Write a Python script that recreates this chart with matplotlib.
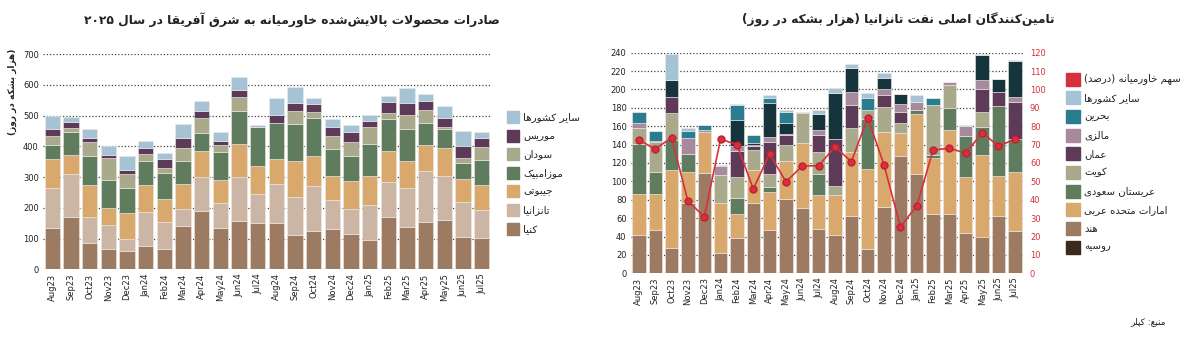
import re

import matplotlib

matplotlib.use("Agg")
import matplotlib.pyplot as plt
from matplotlib.patches import Rectangle
import numpy as np

# ---- data ----
months = ["Aug23", "Sep23", "Oct23", "Nov23", "Dec23", "Jan24", "Feb24", "Mar24",
          "Apr24", "May24", "Jun24", "Jul24", "Aug24", "Sep24", "Oct24", "Nov24",
          "Dec24", "Jan25", "Feb25", "Mar25", "Apr25", "May25", "Jun25", "Jul25"]

# left chart: exports to East Africa (kb/d)
kenya = [133, 171, 85, 67, 60, 76, 65, 141, 189, 134, 157, 150, 150, 112, 126, 131, 116, 96, 171, 139, 154, 161, 105, 102]
tanzania = [132, 139, 84, 77, 39, 111, 88, 54, 110, 81, 142, 94, 127, 123, 146, 95, 79, 114, 112, 126, 166, 143, 113, 91]
djibouti = [94, 62, 106, 54, 83, 87, 77, 82, 86, 75, 108, 92, 82, 117, 97, 78, 93, 93, 103, 86, 84, 91, 77, 80]
mozambique = [45, 75, 92, 93, 83, 79, 84, 76, 59, 91, 108, 126, 116, 120, 124, 88, 80, 104, 104, 104, 73, 60, 51, 83]
sudan = [29, 13, 47, 72, 46, 23, 15, 40, 47, 22, 46, 0, 2, 43, 19, 42, 46, 56, 17, 47, 41, 8, 16, 43]
mauritius = [22, 20, 14, 9, 12, 19, 29, 35, 24, 14, 22, 1, 24, 27, 26, 28, 33, 19, 37, 40, 30, 30, 39, 29]
others_l = [45, 14, 28, 29, 44, 23, 20, 45, 33, 28, 41, 5, 55, 52, 19, 28, 22, 20, 19, 46, 21, 37, 50, 17]

# right chart: Tanzania suppliers (kb/d) + Middle East share (%)
india = [42, 47, 27, 77, 109, 22, 38, 76, 47, 81, 71, 48, 42, 62, 26, 72, 128, 108, 64, 64, 44, 39, 62, 46]
uae = [44, 39, 85, 33, 45, 54, 27, 36, 41, 41, 71, 37, 43, 70, 87, 82, 25, 65, 61, 92, 61, 90, 44, 64]
saudi = [55, 24, 33, 20, 0, 0, 17, 0, 6, 0, 0, 23, 0, 0, 55, 0, 0, 5, 4, 24, 44, 30, 76, 36]
kuwait = [17, 33, 29, 0, 0, 31, 23, 22, 14, 18, 32, 24, 10, 26, 10, 27, 11, 0, 54, 25, 0, 16, 0, 0]
oman = [0, 0, 18, 0, 0, 0, 28, 4, 35, 11, 0, 18, 51, 25, 0, 13, 12, 0, 0, 0, 0, 25, 15, 40]
malaysia = [5, 1, 0, 17, 2, 10, 6, 2, 5, 1, 2, 6, 0, 14, 0, 7, 8, 8, 0, 3, 11, 10, 0, 6]
russia = [0, 0, 18, 0, 0, 0, 28, 2, 37, 11, 0, 17, 50, 26, 0, 12, 11, 0, 0, 0, 0, 27, 14, 39]
bahrain = [13, 11, 0, 8, 5, 0, 16, 9, 6, 13, 0, 0, 0, 0, 13, 0, 0, 0, 8, 0, 0, 0, 0, 0]
others_r = [0, 0, 29, 3, 0, 1, 1, 0, 3, 2, 0, 5, 6, 5, 5, 5, 0, 8, 0, 0, 1, 2, 0, 1]
me_share = [72.5, 67.6, 73.8, 39.3, 30.8, 73, 70, 45.9, 64.9, 49.8, 58.4, 58.5,
            68.9, 60.7, 84.6, 58.9, 25.4, 36.6, 67.1, 68, 65.3, 76.5, 69.2, 72.9]

# ---- minimal persian shaping (matplotlib has no bidi/joining) ----
FORMS = {
    "ا": (0xFE8D, 0xFE8E), "آ": (0xFE81, 0xFE82),
    "ب": (0xFE8F, 0xFE90, 0xFE91, 0xFE92), "پ": (0xFB56, 0xFB57, 0xFB58, 0xFB59),
    "ت": (0xFE95, 0xFE96, 0xFE97, 0xFE98), "ث": (0xFE99, 0xFE9A, 0xFE9B, 0xFE9C),
    "ج": (0xFE9D, 0xFE9E, 0xFE9F, 0xFEA0), "چ": (0xFB7A, 0xFB7B, 0xFB7C, 0xFB7D),
    "ح": (0xFEA1, 0xFEA2, 0xFEA3, 0xFEA4), "خ": (0xFEA5, 0xFEA6, 0xFEA7, 0xFEA8),
    "د": (0xFEA9, 0xFEAA), "ذ": (0xFEAB, 0xFEAC), "ر": (0xFEAD, 0xFEAE),
    "ز": (0xFEAF, 0xFEB0), "ژ": (0xFB8A, 0xFB8B),
    "س": (0xFEB1, 0xFEB2, 0xFEB3, 0xFEB4), "ش": (0xFEB5, 0xFEB6, 0xFEB7, 0xFEB8),
    "ص": (0xFEB9, 0xFEBA, 0xFEBB, 0xFEBC), "ض": (0xFEBD, 0xFEBE, 0xFEBF, 0xFEC0),
    "ط": (0xFEC1, 0xFEC2, 0xFEC3, 0xFEC4), "ظ": (0xFEC5, 0xFEC6, 0xFEC7, 0xFEC8),
    "ع": (0xFEC9, 0xFECA, 0xFECB, 0xFECC), "غ": (0xFECD, 0xFECE, 0xFECF, 0xFED0),
    "ف": (0xFED1, 0xFED2, 0xFED3, 0xFED4), "ق": (0xFED5, 0xFED6, 0xFED7, 0xFED8),
    "ک": (0xFB8E, 0xFB8F, 0xFB90, 0xFB91), "گ": (0xFB92, 0xFB93, 0xFB94, 0xFB95),
    "ل": (0xFEDD, 0xFEDE, 0xFEDF, 0xFEE0), "م": (0xFEE1, 0xFEE2, 0xFEE3, 0xFEE4),
    "ن": (0xFEE5, 0xFEE6, 0xFEE7, 0xFEE8), "و": (0xFEED, 0xFEEE),
    "ه": (0xFEE9, 0xFEEA, 0xFEEB, 0xFEEC), "ی": (0xFBFC, 0xFBFD, 0xFBFE, 0xFBFF),
}
LAM_ALEF = {"ا": (0xFEFB, 0xFEFC), "آ": (0xFEF5, 0xFEF6)}


def fa(text):
    chars = list(text)
    n = len(chars)
    out = []
    i = 0
    while i < n:
        c = chars[i]
        if c == "\u200c":
            i += 1
            continue
        if c not in FORMS:
            out.append(c)
            i += 1
            continue
        prev = chars[i - 1] if i > 0 else ""
        con_prev = prev in FORMS and len(FORMS[prev]) == 4
        if c == "ل" and i + 1 < n and chars[i + 1] in LAM_ALEF:
            lig = LAM_ALEF[chars[i + 1]]
            out.append(chr(lig[1] if con_prev else lig[0]))
            i += 2
            continue
        nxt = chars[i + 1] if i + 1 < n else ""
        f = FORMS[c]
        con_next = len(f) == 4 and nxt in FORMS
        if con_prev and con_next:
            g = f[3]
        elif con_prev:
            g = f[1]
        elif con_next:
            g = f[2]
        else:
            g = f[0]
        out.append(chr(g))
        i += 1
    s = "".join(out)[::-1]
    s = s.translate(str.maketrans("()", ")("))
    s = re.sub(r"[0-9۰-۹]+", lambda m: m.group(0)[::-1], s)
    return s


plt.rcParams["font.family"] = ["DejaVu Sans"]
TXT = "#222222"
GRID = "#444444"
RED = "#d6303c"

fig = plt.figure(figsize=(12, 3.39), dpi=100)
x = np.arange(len(months))


def style_axis(ax, ymax, step):
    ax.set_xlim(-0.5, len(months) - 0.5)
    ax.set_ylim(0, ymax)
    ax.set_yticks(np.arange(0, ymax + 1, step))
    ax.yaxis.grid(True, linestyle=(0, (1, 1.6)), color=GRID, linewidth=0.9)
    ax.set_axisbelow(True)
    for s in ax.spines.values():
        s.set_visible(False)
    ax.tick_params(axis="both", length=0, labelsize=6, colors=TXT, pad=3)
    ax.set_xticks(x)
    ax.set_xticklabels(months, rotation=90)


# ---- left chart ----
axl = fig.add_axes([43 / 1200, 1 - 269.3 / 339, 448 / 1200, 215.3 / 339])
left_series = [
    (kenya, "#9c7b62", "کنیا"),
    (tanzania, "#cbb6a6", "تانزانیا"),
    (djibouti, "#d9a86d", "جیبوتی"),
    (mozambique, "#5f7c5f", "موزامبیک"),
    (sudan, "#a9a98b", "سودان"),
    (mauritius, "#5c3a58", "موریس"),
    (others_l, "#a6c3d6", "سایر کشورها"),
]
bottom = np.zeros(len(months))
for vals, col, _ in left_series:
    axl.bar(x, vals, 0.83, bottom=bottom, color=col, edgecolor="#efe9e3", linewidth=0.4)
    bottom += np.array(vals)
style_axis(axl, 700, 100)

fig.text(292 / 1200, 1 - 20 / 339, fa("صادرات محصولات پالایش\u200cشده خاورمیانه به شرق آفریقا در سال ۲۰۲۵"),
         ha="center", va="center", fontsize=8.8, fontweight="bold", color=TXT)
fig.text(12 / 1200, 1 - 92 / 339, fa("(هزار بشکه در روز)"), rotation=90,
         ha="center", va="center", fontsize=6.5, fontweight="bold", color=TXT)

for i, (vals, col, name) in enumerate(reversed(left_series)):
    yc = 117 + i * 18.6
    fig.patches.append(Rectangle((507 / 1200, 1 - (yc + 6) / 339), 12 / 1200, 12 / 339,
                                 transform=fig.transFigure, color=col))
    fig.text(523 / 1200, 1 - yc / 339, fa(name), ha="left", va="center", fontsize=7.5, color=TXT)

# ---- right chart ----
axr = fig.add_axes([630.7 / 1200, 1 - 273.3 / 339, 392.3 / 1200, 220.6 / 339])
right_series = [
    (india, "#9c7b62", "هند"),
    (uae, "#d9a86d", "امارات متحده عربی"),
    (saudi, "#5f7c5f", "عربستان سعودی"),
    (kuwait, "#a9a98b", "کویت"),
    (oman, "#5c3a58", "عمان"),
    (malaysia, "#a78a9e", "مالزی"),
    (russia, "#15343c", "روسیه"),
    (bahrain, "#2a7d8e", "بحرین"),
    (others_r, "#a6c3d6", "سایر کشورها"),
]
bottom = np.zeros(len(months))
for vals, col, _ in right_series:
    axr.bar(x, vals, 0.82, bottom=bottom, color=col, edgecolor="#efe9e3", linewidth=0.4)
    bottom += np.array(vals)
style_axis(axr, 240, 20)

ax2 = axr.twinx()
ax2.plot(x, me_share, color=RED, linewidth=1.2, marker="o", markersize=5,
         markerfacecolor=RED, markeredgecolor="#c02030")
ax2.set_ylim(0, 120)
ax2.set_yticks(np.arange(0, 121, 10))
for s in ax2.spines.values():
    s.set_visible(False)
ax2.tick_params(axis="y", length=0, labelsize=6, colors=RED, pad=5)

fig.text(898 / 1200, 1 - 20 / 339, fa("تامین\u200cکنندگان اصلی نفت تانزانیا (هزار بشکه در روز)"),
         ha="center", va="center", fontsize=8.8, fontweight="bold", color=TXT)

legend_r = [("سهم خاورمیانه (درصد)", RED)] + [(n, c) for _, c, n in reversed(right_series)]
# russia sits last in the legend
legend_r = [item for item in legend_r if item[0] != "روسیه"] + [("روسیه", "#3a2a1e")]
for i, (name, col) in enumerate(legend_r):
    yc = 79 + i * 18.7
    fig.patches.append(Rectangle((1066 / 1200, 1 - (yc + 6.5) / 339), 14 / 1200, 13 / 339,
                                 transform=fig.transFigure, color=col))
    fig.text(1084 / 1200, 1 - yc / 339, fa(name), ha="left", va="center", fontsize=7.3, color=TXT)

fig.text(1166 / 1200, 1 - 322 / 339, fa("منبع: کپلر"), ha="right", va="center", fontsize=6.5, color=TXT)

fig.savefig("out.png", dpi=100)
